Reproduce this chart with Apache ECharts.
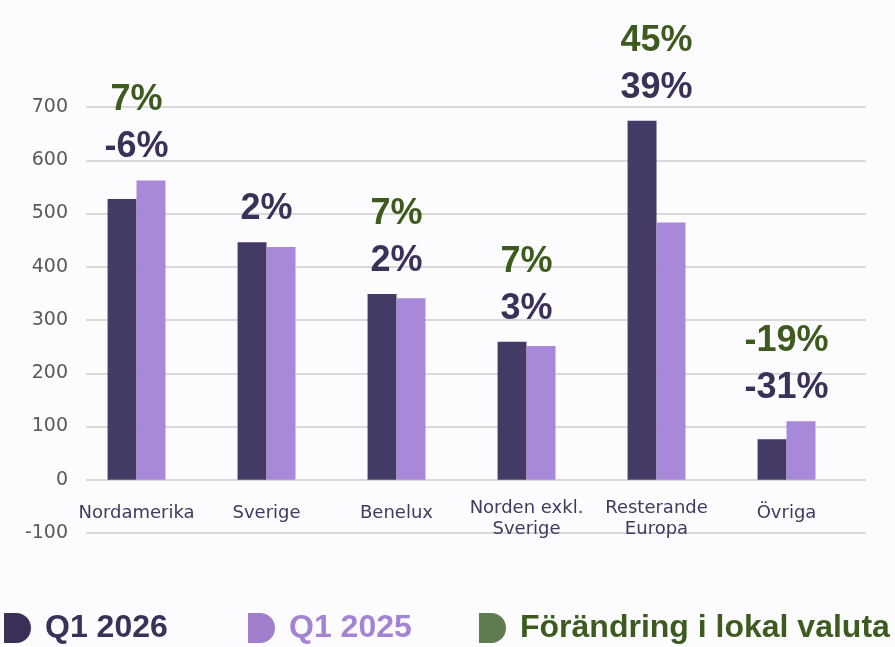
<!DOCTYPE html>
<html>
<head>
<meta charset="utf-8">
<script src="https://cdn.jsdelivr.net/npm/echarts@6/dist/echarts.min.js"></script>
<style>
  html, body { margin: 0; padding: 0; background: #fcfbfe; }
  #chart { width: 895px; height: 647px; }
</style>
</head>
<body>
<div id="chart"></div>
<script>
const categories = ['Nordamerika', 'Sverige', 'Benelux', 'Norden exkl.\nSverige', 'Resterande\nEuropa', 'Övriga'];
const q1_2026 = [527, 446, 349, 259, 674, 76];
const q1_2025 = [562, 437, 341, 251, 483, 110];
const changeLabels = ['-6%', '2%', '2%', '3%', '39%', '-31%'];
const localCurrencyLabels = ['7%', '', '7%', '7%', '45%', '-19%'];
const yMin = -100, yMax = 700, yStep = 100;

const DARK = '#433a66', LIGHT = '#a888d8', GREEN = '#617c4f';
const DARK_TXT = '#3b3158', LIGHT_TXT = '#a383d2', GREEN_TXT = '#3e5b1f';
const CAT_GAP = 0.332;
const GRID_TOP = 107, GRID_BOTTOM = 114, CHART_H = 647;

const dIcon = 'path://M0,0 L12,0 C21,0 27,7 27,15 C27,23 21,30 12,30 L0,30 Z';

const labelData = categories.map((c, i) => [i, q1_2026[i], q1_2025[i]]);

// place the category axis on the zero line (distance from grid bottom to value 0)
const plotH = CHART_H - GRID_TOP - GRID_BOTTOM;
const zeroOffset = -plotH * (0 - yMin) / (yMax - yMin);

const chart = echarts.init(document.getElementById('chart'));
function legendFor(name, left, iconColor, textColor) {
  return {
    data: [{ name: name, icon: dIcon, itemStyle: { color: iconColor } }],
    left: left, top: 612, padding: 0,
    itemWidth: 27, itemHeight: 30,
    selectedMode: false,
    textStyle: { color: textColor, fontSize: 32, fontWeight: 'bold', fontFamily: 'Liberation Sans', padding: [2, 0, 0, 9] }
  };
}
chart.setOption({
  backgroundColor: '#fcfbfe',
  animation: false,
  grid: { left: 86, right: 29, top: GRID_TOP, bottom: GRID_BOTTOM },
  legend: [
    legendFor('Q1 2026', 4, '#3b3158', DARK_TXT),
    legendFor('Q1 2025', 248, '#a07fca', LIGHT_TXT),
    legendFor('Förändring i lokal valuta', 479, GREEN, GREEN_TXT)
  ],
  xAxis: {
    type: 'category',
    data: categories,
    offset: zeroOffset,
    axisLine: { show: false, onZero: false },
    axisTick: { show: false },
    axisLabel: {
      interval: 0, margin: 18, color: '#3f3a5e', fontSize: 18, fontFamily: 'DejaVu Sans', lineHeight: 21,
      padding: [0, 29, 0, 0],
      formatter: v => v.indexOf('\n') >= 0 ? v : '{s|' + v + '}',
      rich: { s: { color: '#3f3a5e', fontSize: 18, fontFamily: 'DejaVu Sans', lineHeight: 21, padding: [11, 0, 0, 0] } }
    }
  },
  yAxis: {
    type: 'value', min: yMin, max: yMax, interval: yStep,
    axisLine: { show: false }, axisTick: { show: false },
    axisLabel: { color: '#595959', fontSize: 19, fontFamily: 'DejaVu Sans', margin: 18 },
    splitLine: { lineStyle: { color: '#d9d9d9', width: 2 } }
  },
  series: [
    { name: 'Q1 2026', type: 'bar', data: q1_2026, itemStyle: { color: DARK }, barGap: '0%', barCategoryGap: (CAT_GAP * 100) + '%' },
    { name: 'Q1 2025', type: 'bar', data: q1_2025, itemStyle: { color: LIGHT }, barGap: '0%', barCategoryGap: (CAT_GAP * 100) + '%' },
    { name: 'Förändring i lokal valuta', type: 'bar', data: categories.map(() => null), itemStyle: { color: GREEN }, barGap: '0%', barCategoryGap: (CAT_GAP * 100) + '%' },
    {
      name: 'labels', type: 'custom', data: labelData, clip: false, silent: true, z: 10,
      renderItem: function (params, api) {
        const i = api.value(0);
        const top = Math.max(api.value(1), api.value(2));
        const pt = api.coord([i, top]);
        const band = api.size([1, 0])[0];
        const barW = band * (1 - CAT_GAP) / 3;
        const cx = pt[0] - barW / 2;
        const children = [{
          type: 'text',
          style: { x: cx, y: pt[1] - 33, text: changeLabels[i], fill: DARK_TXT, font: 'bold 36px "Liberation Sans"', align: 'center', verticalAlign: 'middle' }
        }];
        if (localCurrencyLabels[i]) {
          children.push({
            type: 'text',
            style: { x: cx, y: pt[1] - 33 - 47, text: localCurrencyLabels[i], fill: GREEN_TXT, font: 'bold 36px "Liberation Sans"', align: 'center', verticalAlign: 'middle' }
          });
        }
        return { type: 'group', children: children };
      }
    }
  ]
});
</script>
</body>
</html>
